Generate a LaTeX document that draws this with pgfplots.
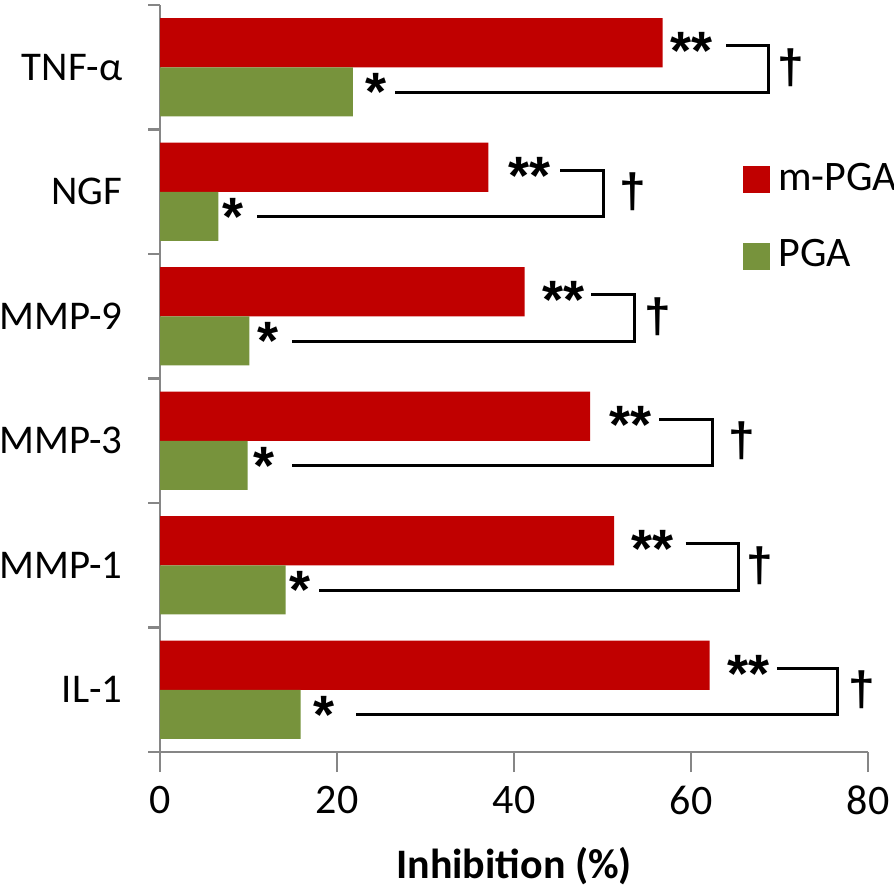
\documentclass[border=0pt]{standalone}
\usepackage{fontspec}
\setmainfont{Carlito}
\newfontfamily\astfont{Liberation Sans}
\usepackage{pgfplots}
\pgfplotsset{compat=1.18}
\definecolor{mred}{HTML}{C00000}
\definecolor{pgreen}{HTML}{77933C}
\definecolor{axgray}{HTML}{868686}
\begin{document}
\begin{tikzpicture}
\begin{axis}[
  scale only axis, width=177pt, height=186.75pt,
  xmin=0, xmax=80, ymin=-0.5, ymax=5.5,
  xbar, bar width=0.395,
  every axis plot post/.append style={legend image code/.code={\fill[##1] (0pt,-3.4pt) rectangle (6.8pt,3.4pt);}},
  axis x line*=bottom, axis y line*=left,
  axis line style={draw=axgray, line width=0.6pt},
  every tick/.style={draw=axgray, line width=0.6pt},
  tick align=outside,
  xtick={0,20,40,60,80}, major tick length=5pt,
  ytick={0,...,5}, yticklabels={IL-1,MMP-1,MMP-3,MMP-9,NGF,TNF-α},
  major y tick style={draw=none},
  minor ytick={-0.5,0.5,...,5.5}, minor tick length=3pt,
  tick label style={font=\fontsize{10.5}{12}\selectfont, text=black},
  yticklabel style={font=\fontsize{10.2}{12}\selectfont, inner xsep=0pt, xshift=-4.2pt},
  /pgf/number format/assume math mode=true,
  xlabel={Inhibition (\%)},
  xlabel style={font=\bfseries\fontsize{10.5}{12}\selectfont, at={(axis description cs:0.5,0)}, anchor=center, yshift=-28.5pt},
  legend style={at={(axis cs:65.8,4.3)}, anchor=north west, draw=none, fill=none, inner sep=0pt, row sep=6.8pt, font=\fontsize{10.5}{12}\selectfont},
  legend cell align=left,
  clip=false,
]
\addplot[fill=mred, draw=none, bar shift=0.1975] coordinates {(62.1,0) (51.3,1) (48.6,2) (41.2,3) (37.1,4) (56.8,5)};
\addplot[fill=pgreen, draw=none, bar shift=-0.1975] coordinates {(15.9,0) (14.2,1) (9.9,2) (10.1,3) (6.6,4) (21.8,5)};
\legend{m-PGA, PGA}
% significance annotations
\tikzset{st/.style={font=\astfont\bfseries\fontsize{13.5}{13.5}\selectfont, inner sep=0pt}, dg/.style={font=\astfont\bfseries\fontsize{12}{12}\selectfont, inner sep=0pt}, br/.style={line width=0.75pt, black}}
% TNF-alpha (5)
\node[st] at (axis cs:60.1,5.13) {**};
\node[st] at (axis cs:24.4,4.8) {*};
\draw[br] (axis cs:64.0,5.172) -| (axis cs:68.8,4.8) -- (axis cs:26.6,4.8);
\node[dg] at (axis cs:71.3,5.0) {†};
% NGF (4)
\node[st] at (axis cs:41.8,4.13) {**};
\node[st] at (axis cs:8.3,3.8) {*};
\draw[br] (axis cs:45.2,4.172) -| (axis cs:50.1,3.8) -- (axis cs:11.0,3.8);
\node[dg] at (axis cs:53.4,4.0) {†};
% MMP-9 (3)
\node[st] at (axis cs:45.6,3.13) {**};
\node[st] at (axis cs:12.2,2.8) {*};
\draw[br] (axis cs:48.7,3.172) -| (axis cs:53.6,2.8) -- (axis cs:14.9,2.8);
\node[dg] at (axis cs:56.2,3.0) {†};
% MMP-3 (2)
\node[st] at (axis cs:53.2,2.13) {**};
\node[st] at (axis cs:11.7,1.8) {*};
\draw[br] (axis cs:56.4,2.172) -| (axis cs:62.4,1.8) -- (axis cs:14.9,1.8);
\node[dg] at (axis cs:65.7,2.0) {†};
% MMP-1 (1)
\node[st] at (axis cs:55.7,1.13) {**};
\node[st] at (axis cs:15.8,0.8) {*};
\draw[br] (axis cs:59.4,1.172) -| (axis cs:65.4,0.8) -- (axis cs:18.0,0.8);
\node[dg] at (axis cs:67.8,1.0) {†};
% IL-1 (0)
\node[st] at (axis cs:66.5,0.13) {**};
\node[st] at (axis cs:18.5,-0.2) {*};
\draw[br] (axis cs:69.7,0.172) -| (axis cs:76.5,-0.2) -- (axis cs:22.2,-0.2);
\node[dg] at (axis cs:79.3,0.0) {†};
\end{axis}
\pgfresetboundingbox
\path ([shift={(-40pt,-34.5pt)}]current axis.south west) rectangle ([shift={(6.5pt,1.25pt)}]current axis.north east);
\end{tikzpicture}
\end{document}
